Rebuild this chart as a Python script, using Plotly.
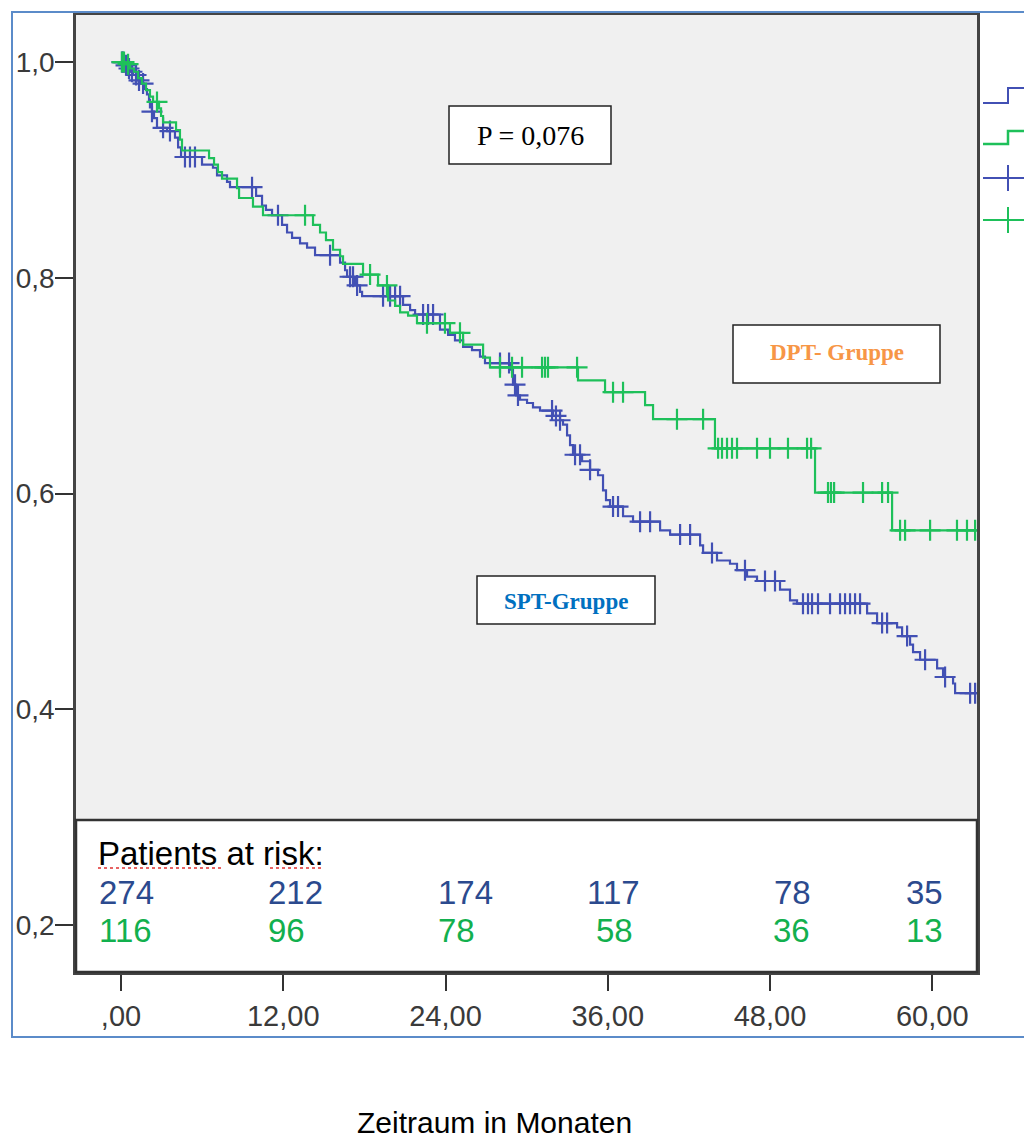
import numpy as np
import plotly.graph_objects as go

# ---------------- data ----------------
dpt_times = [0, 0.37, 0.67, 0.96, 1.26, 1.55, 1.85, 2.14, 2.37, 2.81, 2.96, 3.11, 4.07, 4.36, 4.51,
             6.51, 6.88, 7.17, 7.47, 8.58, 8.73, 9.76, 10.50, 14.20, 14.72, 15.16, 15.68, 16.20,
             16.42, 17.90, 19.01, 19.75, 20.27, 20.64, 21.23, 21.89, 24.33, 25.30, 26.78, 27.29,
             33.80, 35.80, 38.76, 39.35, 43.93, 51.33, 57.03]
dpt_surv = [1.000, 0.998, 0.994, 0.991, 0.985, 0.980, 0.974, 0.968, 0.963, 0.957, 0.950, 0.944,
            0.937, 0.928, 0.918, 0.911, 0.905, 0.898, 0.892, 0.883, 0.874, 0.866, 0.858, 0.849,
            0.842, 0.835, 0.826, 0.820, 0.813, 0.803, 0.793, 0.779, 0.774, 0.768, 0.765, 0.758,
            0.749, 0.738, 0.726, 0.717, 0.705, 0.694, 0.682, 0.669, 0.642, 0.601, 0.566]
dpt_censored = [0.07, 0.22, 0.52, 2.66, 13.61, 18.42, 19.67, 22.63, 23.96, 25.07, 28.03, 28.92,
                29.66, 31.14, 31.36, 31.58, 33.73, 36.39, 37.13, 41.12, 43.05, 44.16, 44.45,
                44.82, 45.19, 45.56, 47.04, 48.00, 49.33, 50.74, 51.04, 52.29, 52.51, 52.74,
                54.88, 56.29, 56.73, 57.62, 57.99, 59.84, 61.83, 62.57, 63.17]

spt_times = [0, 0.22, 0.44, 0.67, 0.89, 1.18, 1.41, 1.70, 1.92, 2.07, 2.14, 2.29, 2.44, 2.66,
             3.40, 3.99, 4.22, 4.44, 5.99, 6.80, 7.10, 7.84, 8.06, 9.99, 10.43, 10.72, 11.17,
             11.91, 12.28, 12.65, 13.24, 13.76, 14.35, 16.20, 16.57, 16.72, 17.31, 17.68, 17.83,
             20.86, 21.38, 21.75, 23.59, 24.19, 24.70, 25.30, 25.96, 26.55, 26.92, 28.77, 28.99,
             29.22, 29.51, 30.03, 30.47, 30.99, 31.95, 32.47, 32.69, 32.99, 33.21, 33.43, 34.10,
             34.69, 35.28, 35.65, 35.87, 36.17, 37.13, 37.87, 39.87, 40.61, 42.83, 43.05, 44.08,
             45.04, 45.56, 46.30, 47.04, 48.74, 49.48, 50.00, 55.18, 55.92, 57.40, 57.77, 58.36,
             58.58, 59.10, 60.36, 60.80, 61.54, 61.69]
spt_surv = [1.000, 0.997, 0.994, 0.991, 0.988, 0.983, 0.980, 0.975, 0.970, 0.965, 0.958, 0.954,
            0.948, 0.939, 0.936, 0.930, 0.921, 0.912, 0.905, 0.902, 0.895, 0.889, 0.884, 0.876,
            0.867, 0.863, 0.858, 0.849, 0.842, 0.837, 0.832, 0.828, 0.821, 0.814, 0.807, 0.801,
            0.793, 0.787, 0.783, 0.775, 0.770, 0.766, 0.752, 0.747, 0.742, 0.736, 0.733, 0.727,
            0.721, 0.715, 0.701, 0.691, 0.687, 0.684, 0.680, 0.677, 0.672, 0.668, 0.664, 0.654,
            0.645, 0.636, 0.630, 0.622, 0.617, 0.603, 0.594, 0.588, 0.579, 0.574, 0.566, 0.562,
            0.552, 0.545, 0.538, 0.535, 0.529, 0.523, 0.519, 0.511, 0.501, 0.498, 0.489, 0.480,
            0.476, 0.468, 0.460, 0.453, 0.446, 0.438, 0.430, 0.424, 0.415]
spt_censored = [0.07, 0.15, 0.37, 0.59, 0.81, 1.11, 1.33, 1.63, 2.29, 3.11, 3.62, 4.73, 5.10,
                5.47, 9.69, 11.61, 15.46, 16.94, 17.16, 17.46, 19.38, 19.90, 20.27, 20.64, 22.34,
                22.71, 23.08, 28.03, 28.70, 29.14, 29.36, 31.88, 32.17, 32.47, 33.58, 33.95,
                34.69, 36.39, 36.76, 38.39, 39.13, 41.35, 42.09, 43.71, 46.15, 47.63, 48.37,
                50.44, 50.81, 51.11, 51.55, 52.44, 53.18, 53.55, 53.92, 54.29, 54.66, 56.29,
                56.66, 58.14, 59.47, 60.95, 62.80, 63.17]

x_tick_vals = [0, 12, 24, 36, 48, 60]
x_tick_text = [",00", "12,00", "24,00", "36,00", "48,00", "60,00"]
y_tick_vals = [0.2, 0.4, 0.6, 0.8, 1.0]
y_tick_text = ["0,2", "0,4", "0,6", "0,8", "1,0"]

risk_spt = [274, 212, 174, 117, 78, 35]
risk_dpt = [116, 96, 78, 58, 36, 13]

BLUE = "#4250B4"
GREEN = "#1EC05A"


def surv_at(times, surv, t):
    i = np.searchsorted(np.array(times), t, side="right") - 1
    return surv[max(i, 0)]


def curve(times, surv, cens, color, name):
    end = max(cens[-1], times[-1])
    xs = list(times) + [end]
    ys = list(surv) + [surv[-1]]
    line = go.Scatter(x=xs, y=ys, mode="lines", line=dict(color=color, width=2.2, shape="hv"),
                      name=name, showlegend=False, hoverinfo="skip")
    marks = go.Scatter(x=cens, y=[surv_at(times, surv, t) for t in cens], mode="markers",
                       marker=dict(symbol="cross-thin", size=15, line=dict(color=color, width=2.2)),
                       showlegend=False, hoverinfo="skip")
    return [line, marks]


fig = go.Figure()
for tr in curve(spt_times, spt_surv, spt_censored, BLUE, "SPT"):
    fig.add_trace(tr)
for tr in curve(dpt_times, dpt_surv, dpt_censored, GREEN, "DPT"):
    fig.add_trace(tr)

W, H = 1024, 1140


def px(x):
    return x / W


def py(y):
    return 1 - y / H


fig.update_layout(
    width=W, height=H, margin=dict(l=0, r=0, t=0, b=0),
    paper_bgcolor="white", plot_bgcolor="#F0F0F0",
    showlegend=False,
    xaxis=dict(domain=[px(76), px(977)], range=[-3.33, 63.31], tickvals=x_tick_vals,
               ticktext=x_tick_text, showgrid=False, zeroline=False, showline=True, mirror=True,
               linecolor="#444444", linewidth=2.5, ticks="outside", ticklen=16, tickwidth=2,
               tickcolor="#333333",
               tickfont=dict(family="Liberation Sans, Arial", size=29, color="#3a3a3a")),
    yaxis=dict(domain=[py(972), py(15)], range=[0.1566, 1.0436], tickvals=y_tick_vals,
               ticktext=y_tick_text, showgrid=False, zeroline=False, showline=True, mirror=True,
               linecolor="#444444", linewidth=2.5, ticks="outside", ticklen=18, tickwidth=2,
               tickcolor="#333333", ticklabelstandoff=-5,
               tickfont=dict(family="Liberation Sans, Arial", size=28, color="#3a3a3a")),
)

shapes = []
# outer light-blue frame
shapes.append(dict(type="path", xref="paper", yref="paper",
                   path=f"M {px(1030)},{py(12)} L {px(12)},{py(12)} L {px(12)},{py(1037)} L {px(1030)},{py(1037)}",
                   line=dict(color="#5B8BC9", width=2), layer="above"))
# risk table box
shapes.append(dict(type="rect", xref="paper", yref="paper", x0=px(76), x1=px(977), y0=py(972), y1=py(820),
                   fillcolor="white", line=dict(color="#333333", width=2.5), layer="above"))
# P box, DPT box, SPT box
for (x0, y0, x1, y1) in [(449, 106, 611, 164), (733, 325, 940, 383), (477, 576, 655, 624)]:
    shapes.append(dict(type="rect", xref="paper", yref="paper", x0=px(x0), x1=px(x1), y0=py(y1), y1=py(y0),
                       fillcolor="white", line=dict(color="#222222", width=1.5), layer="above"))
# red spell-check underline
for (a, b) in [(98, 222), (270, 324)]:
    shapes.append(dict(type="line", xref="paper", yref="paper", x0=px(a), x1=px(b), y0=py(868), y1=py(868),
                       line=dict(color="#E03030", width=1.5, dash="dot"), layer="above"))
# legend glyphs (cut off at the right edge)
shapes.append(dict(type="path", xref="paper", yref="paper",
                   path=f"M {px(983)},{py(103)} L {px(1008)},{py(103)} L {px(1008)},{py(88)} L {px(1030)},{py(88)}",
                   line=dict(color=BLUE, width=2), layer="above"))
shapes.append(dict(type="path", xref="paper", yref="paper",
                   path=f"M {px(983)},{py(144)} L {px(1008)},{py(144)} L {px(1008)},{py(131)} L {px(1030)},{py(131)}",
                   line=dict(color=GREEN, width=2.5), layer="above"))
for (yc, col) in [(178, BLUE), (220, GREEN)]:
    shapes.append(dict(type="line", xref="paper", yref="paper", x0=px(983), x1=px(1030), y0=py(yc), y1=py(yc),
                       line=dict(color=col, width=2), layer="above"))
    shapes.append(dict(type="line", xref="paper", yref="paper", x0=px(1008), x1=px(1008), y0=py(yc - 13), y1=py(yc + 13),
                       line=dict(color=col, width=2), layer="above"))
fig.update_layout(shapes=shapes)

ann = []
ann.append(dict(x=px(530), y=py(135), xref="paper", yref="paper", text="P = 0,076", showarrow=False,
                font=dict(family="Liberation Serif, Times New Roman", size=28, color="black"),
                xanchor="center", yanchor="middle"))
ann.append(dict(x=px(837), y=py(353), xref="paper", yref="paper", text="<b>DPT- Gruppe</b>", showarrow=False,
                font=dict(family="Liberation Serif, Cambria", size=23, color="#F79646"),
                xanchor="center", yanchor="middle"))
ann.append(dict(x=px(566), y=py(601), xref="paper", yref="paper", text="<b>SPT-Gruppe</b>", showarrow=False,
                font=dict(family="Liberation Serif, Cambria", size=23, color="#0070C0"),
                xanchor="center", yanchor="middle"))
ann.append(dict(x=px(96), y=py(853), xref="paper", yref="paper", text="Patients at risk:", showarrow=False,
                font=dict(family="Liberation Sans, Arial", size=33, color="black"),
                xanchor="left", yanchor="middle"))
spt_x = [97, 266, 436, 585, 772, 904]
dpt_x = [97, 266, 436, 594, 771, 904]
for v, xx in zip(risk_spt, spt_x):
    ann.append(dict(x=px(xx), y=py(892), xref="paper", yref="paper", text=str(v), showarrow=False,
                    font=dict(family="Liberation Sans, Arial", size=33, color="#2B4A8E"),
                    xanchor="left", yanchor="middle"))
for v, xx in zip(risk_dpt, dpt_x):
    ann.append(dict(x=px(xx), y=py(930), xref="paper", yref="paper", text=str(v), showarrow=False,
                    font=dict(family="Liberation Sans, Arial", size=33, color="#12B04E"),
                    xanchor="left", yanchor="middle"))
ann.append(dict(x=px(494), y=py(1122), xref="paper", yref="paper", text="Zeitraum in Monaten", showarrow=False,
                font=dict(family="Liberation Sans, Arial", size=30, color="black"),
                xanchor="center", yanchor="middle"))
fig.update_layout(annotations=ann)

fig.write_html("out.html")
